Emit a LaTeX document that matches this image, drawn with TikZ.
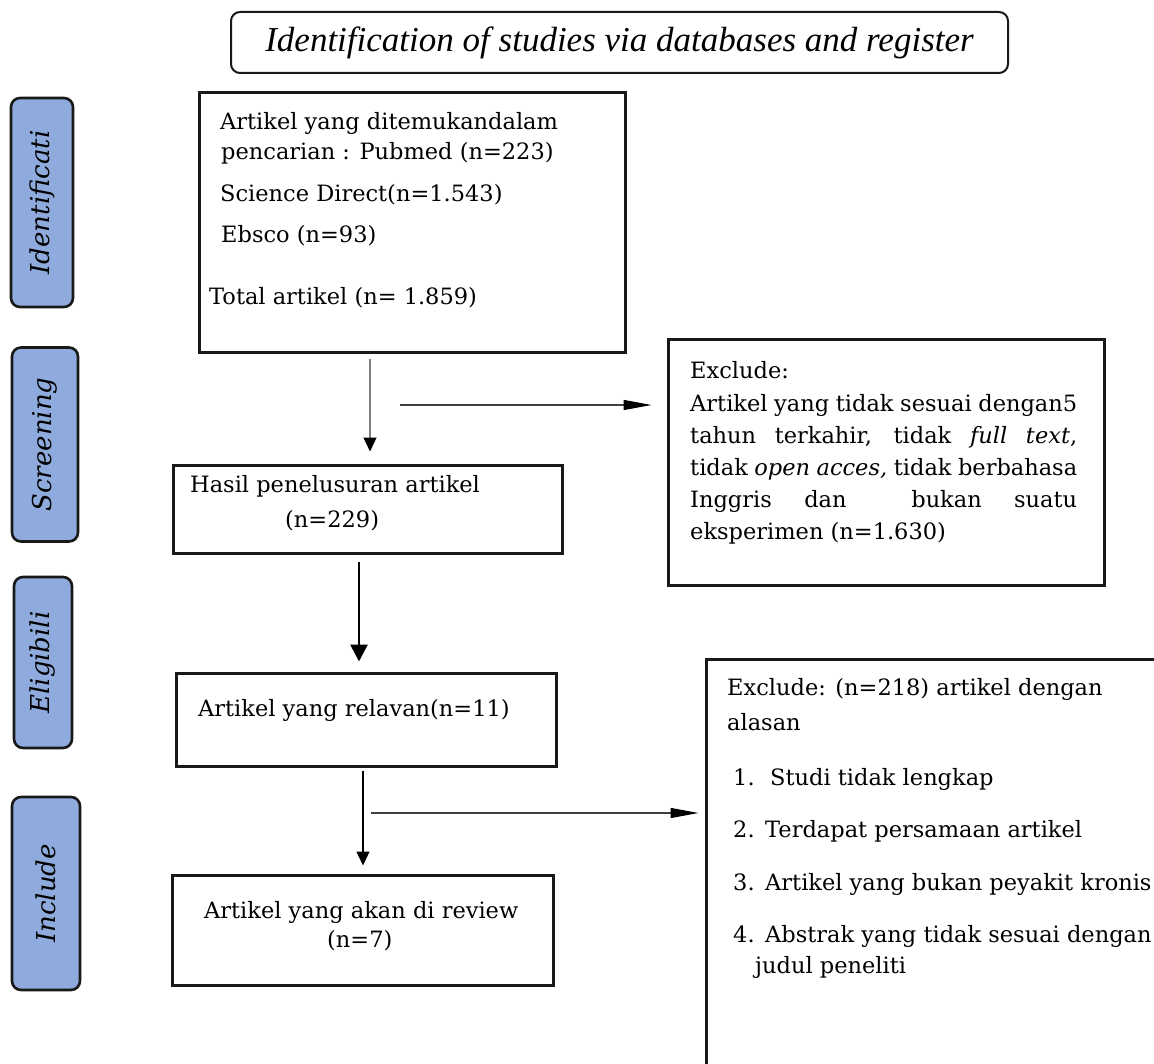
\documentclass[tikz,border=0pt]{standalone}
\usepackage{fontspec}
\setmainfont{DejaVu Serif}
\newfontfamily\titlefont{Liberation Serif}
\usetikzlibrary{arrows.meta}
\definecolor{sideblue}{HTML}{8FAADC}
\definecolor{thingray}{HTML}{7F7F7F}
\tikzset{
  sidebox/.style={draw=black!90, line width=2.6pt, rounded corners=9pt, fill=sideblue, rotate=90,
     font=\fontsize{26}{30}\selectfont\itshape, inner sep=0pt},
  flowbox/.style={draw=black!90, line width=3pt, inner sep=0pt},
  titlebox/.style={draw=black!90, line width=2pt, rounded corners=9pt, inner sep=0pt,
     font=\titlefont\fontsize{35}{40}\selectfont\itshape},
  txt/.style={anchor=base west, inner sep=0pt, font=\fontsize{22.5}{30}\selectfont},
  thinarrow/.style={draw=thingray, line width=1.3pt, -{Triangle[length=14pt,width=13pt,color=black]}},
  blackthin/.style={draw=black, line width=1.3pt, -{Triangle[length=14pt,width=13pt]}},
  thickarrow/.style={draw=black, line width=2.8pt, -{Triangle[length=17pt,width=17pt]}},
  longarrow/.style={draw=black!75, line width=1.2pt, -{Triangle[length=28pt,width=10pt,color=black]}}
}
\begin{document}
\begin{tikzpicture}[x=1pt,y=-1pt]
\useasboundingbox (0,0) rectangle (1154,1064);
\clip (0,0) rectangle (1154,1064);
\fill[white] (0,0) rectangle (1154,1064);

% title
\node[titlebox, minimum width=777pt, minimum height=61pt] (title) at (619.5,42.5)
  {Identification of studies via databases and register};

% side labels
\node[sidebox, minimum width=209pt, minimum height=62pt] (sId) at (42,202.5) {Identificati};
\node[sidebox, minimum width=194pt, minimum height=66pt] (sSc) at (45,444.5) {Screening};
\node[sidebox, minimum width=171pt, minimum height=58pt] (sEl) at (43,662.5) {Eligibili};
\node[sidebox, minimum width=193pt, minimum height=68pt] (sIn) at (46,893.5) {Include};

% flow boxes
\node[flowbox, minimum width=426pt, minimum height=260pt] (A) at (412,223) {};
\node[flowbox, minimum width=389pt, minimum height=88pt] (B) at (367.5,509) {};
\node[flowbox, minimum width=380pt, minimum height=93pt] (C) at (366,719.5) {};
\node[flowbox, minimum width=381pt, minimum height=110pt] (D) at (362.5,930) {};
\node[flowbox, minimum width=436pt, minimum height=245pt] (E1) at (886,462.5) {};
\node[flowbox, minimum width=495pt, minimum height=442pt] (E2) at (953.5,880) {};

% texts in A
\node[txt] (a1) at (220,130) {Artikel yang ditemukandalam};
\node[txt] (a2) at (221,160) {pencarian : Pubmed (n=223)};
\node[txt] (a3) at (220,202) {Science Direct(n=1.543)};
\node[txt] (a4) at (221,243) {Ebsco (n=93)};
\node[txt] (a5) at (209,305) {Total artikel (n= 1.859)};

% texts in B, C, D
\node[txt] (b1) at (190,492) {Hasil penelusuran artikel};
\node[txt] (b2) at (285,527) {(n=229)};
\node[txt] (c1) at (198,716) {Artikel yang relavan(n=11)};
\node[txt] (d1) at (204,918) {Artikel yang akan di review};
\node[txt] (d2) at (327,947) {(n=7)};

% texts in E1
\node[txt] (e1) at (690,379) {Exclude:};
\node[txt] (e2) at (690,411) {\makebox[387pt][s]{Artikel yang tidak sesuai dengan5}};
\node[txt] (e3) at (690,443) {\makebox[387pt][s]{tahun terkahir, tidak \textit{full text},}};
\node[txt] (e4) at (690,475) {\makebox[387pt][s]{tidak \textit{open acces,} tidak berbahasa}};
\node[txt] (e5) at (690,507) {\makebox[387pt][s]{Inggris\hfill dan\hfill\hfill bukan\hfill suatu}};
\node[txt] (e6) at (690,539) {eksperimen (n=1.630)};

% texts in E2
\node[txt] (f1) at (727,695) {Exclude: (n=218) artikel dengan};
\node[txt] (f2) at (727,730) {alasan};
\node[txt] (n1) at (733,785) {1.};
\node[txt] (g1) at (770,785) {Studi tidak lengkap};
\node[txt] (n2) at (733,837) {2.};
\node[txt] (g2) at (765,837) {Terdapat persamaan artikel};
\node[txt] (n3) at (733,890) {3.};
\node[txt] (g3) at (765,890) {Artikel yang bukan peyakit kronis};
\node[txt] (n4) at (733,942) {4.};
\node[txt] (g4) at (765,942) {Abstrak yang tidak sesuai dengan};
\node[txt] (g5) at (755,973) {judul peneliti};

% connectors
\coordinate (h1) at (400,405);
\coordinate (h2) at (371,813);
\draw[thinarrow] ([xshift=-42pt,yshift=-5pt]A.south) -- ([xshift=2.5pt,yshift=12pt]B.north);
\draw[longarrow] (h1) -- ([xshift=-15pt]h1 -| E1.west);
\draw[thickarrow] ([xshift=-8.5pt,yshift=-7pt]B.south) -- ([xshift=-7pt,yshift=10pt]C.north);
\draw[blackthin] ([xshift=-3pt,yshift=-3pt]C.south) -- ([xshift=0.5pt,yshift=8pt]D.north);
\draw[longarrow] (h2) -- ([xshift=-6pt]h2 -| E2.west);
\end{tikzpicture}
\end{document}
